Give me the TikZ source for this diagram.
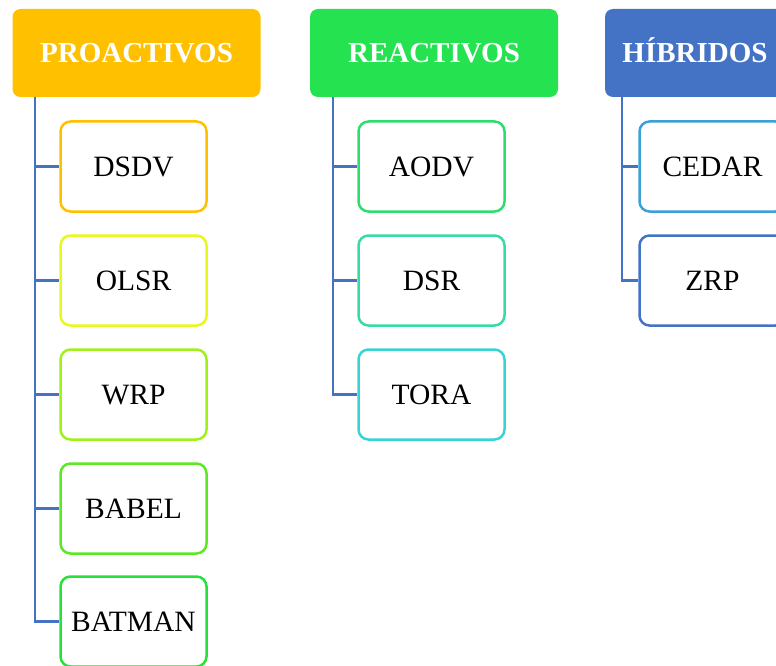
\documentclass[tikz,border=0pt]{standalone}
\usepackage{fontspec}
\setmainfont{Liberation Serif}
\definecolor{cProHead}{HTML}{FFC000}
\definecolor{cReaHead}{HTML}{24E250}
\definecolor{cHibHead}{HTML}{4472C4}
\definecolor{cLink}{HTML}{4472C4}
\definecolor{cDSDV}{HTML}{FFC000}
\definecolor{cOLSR}{HTML}{E8F81C}
\definecolor{cWRP}{HTML}{A0F01C}
\definecolor{cBABEL}{HTML}{5CE824}
\definecolor{cBATMAN}{HTML}{28E03C}
\definecolor{cAODV}{HTML}{2EDC70}
\definecolor{cDSR}{HTML}{38DCA0}
\definecolor{cTORA}{HTML}{38D4D4}
\definecolor{cCEDAR}{HTML}{3CA0D8}
\definecolor{cZRP}{HTML}{4472C4}
\tikzset{
  header/.style={fill=#1, rounded corners=8pt, minimum width=248pt, minimum height=88pt,
    inner sep=0pt, text height=20pt, text depth=0pt, text=white,
    font=\fontsize{29}{34}\selectfont\bfseries},
  leaf/.style={draw=#1, line width=2.5pt, fill=white, rounded corners=10pt,
    minimum width=146pt, minimum height=90pt, inner sep=0pt,
    text height=20pt, text depth=0pt,
    font=\fontsize{29.5}{34}\selectfont},
  link/.style={draw=cLink, line width=2.8pt}
}
\begin{document}
\begin{tikzpicture}[x=1pt,y=-1pt]
\useasboundingbox (0,0) rectangle (776,666);
\clip (0,0) rectangle (776,666);

% category headers
\node[header=cProHead] (pro) at (136.5,53) {PROACTIVOS};
\node[header=cReaHead] (rea) at (434,53) {REACTIVOS};
\node[header=cHibHead, minimum width=180pt] (hib) at (695,53) {HÍBRIDOS};

% trunk start points under each header
\coordinate (tp) at (35,97);
\coordinate (tr) at (333,97);
\coordinate (th) at (622,97);

% proactive protocols
\node[leaf=cDSDV]   (dsdv)   at (133.5,166.5) {DSDV};
\node[leaf=cOLSR]   (olsr)   at (133.5,280.5) {OLSR};
\node[leaf=cWRP]    (wrp)    at (133.5,394.5) {WRP};
\node[leaf=cBABEL]  (babel)  at (133.5,508.5) {BABEL};
\node[leaf=cBATMAN] (batman) at (133.5,621.5) {BATMAN};

% reactive protocols
\node[leaf=cAODV] (aodv) at (431.5,166.5) {AODV};
\node[leaf=cDSR]  (dsr)  at (431.5,280.5) {DSR};
\node[leaf=cTORA] (tora) at (431.5,394.5) {TORA};

% hybrid protocols
\node[leaf=cCEDAR] (cedar) at (712.5,166.5) {CEDAR};
\node[leaf=cZRP]   (zrp)   at (712.5,280.5) {ZRP};

% tree connectors
\foreach \n in {dsdv,olsr,wrp,babel,batman} \draw[link] (tp) |- (\n.west);
\foreach \n in {aodv,dsr,tora} \draw[link] (tr) |- (\n.west);
\foreach \n in {cedar,zrp} \draw[link] (th) |- (\n.west);
\end{tikzpicture}
\end{document}
